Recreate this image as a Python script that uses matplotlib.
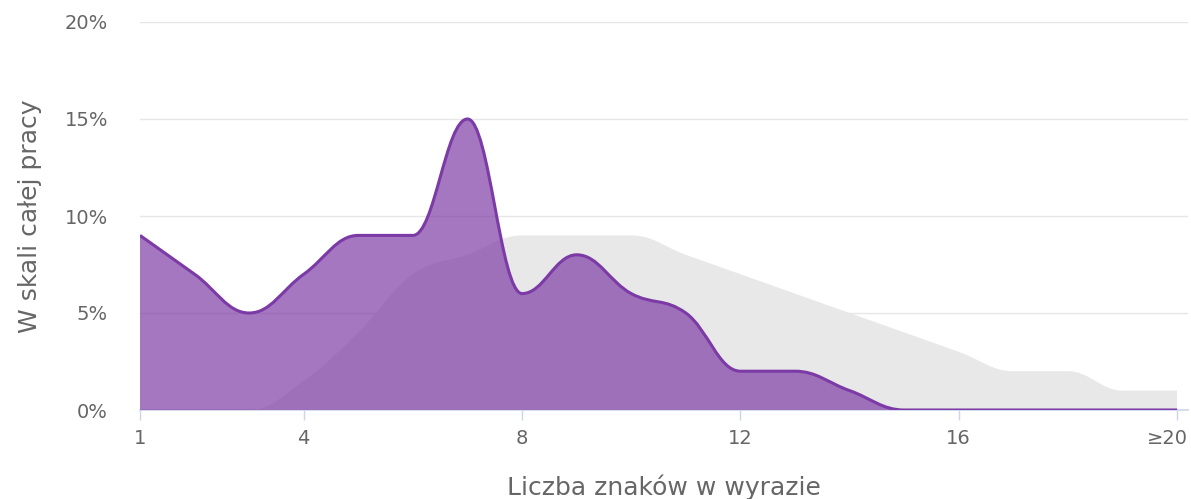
# Rozkład długości wyrazów: praca vs. wzorzec (areaspline w stylu Highcharts)
import matplotlib.pyplot as plt
import matplotlib.transforms as mtransforms
from matplotlib.path import Path
from matplotlib.patches import PathPatch

plt.rcParams["font.family"] = ["DejaVu Sans"]

# --- dane ---
dlugosc = list(range(1, 21))                      # liczba znaków (20 = "≥20")
praca = [9, 7, 5, 7, 9, 9, 15, 6, 8, 6, 5, 2, 2, 1, 0, 0, 0, 0, 0, 0]
wzorzec = [0, 0, 0, 1.5, 4, 7, 8, 9, 9, 9, 8, 7, 6, 5, 4, 3, 2, 2, 1, 1]
x_ticks = [1, 4, 8, 12, 16, 20]
x_tick_labels = ["1", "4", "8", "12", "16", "≥20"]
y_ticks = [0, 5, 10, 15, 20]
y_tick_labels = ["0%", "5%", "10%", "15%", "20%"]


def spline_path(xs, ys, closed=False, smoothing=1.5):
    # krzywe Béziera liczone tak jak w Highcharts (bez fałszywych ekstremów)
    n = len(xs)
    denom = smoothing + 1
    lc = [None] * n
    rc = [None] * n
    for i in range(1, n - 1):
        x, y = xs[i], ys[i]
        lx, ly = xs[i - 1], ys[i - 1]
        nx, ny = xs[i + 1], ys[i + 1]
        lcx = (smoothing * x + lx) / denom
        lcy = (smoothing * y + ly) / denom
        rcx = (smoothing * x + nx) / denom
        rcy = (smoothing * y + ny) / denom
        corr = 0
        if rcx != lcx:
            corr = (rcy - lcy) * (rcx - x) / (rcx - lcx) + y - rcy
        lcy += corr
        rcy += corr
        if lcy > ly and lcy > y:
            lcy = max(ly, y)
            rcy = 2 * y - lcy
        elif lcy < ly and lcy < y:
            lcy = min(ly, y)
            rcy = 2 * y - lcy
        if rcy > ny and rcy > y:
            rcy = max(ny, y)
            lcy = 2 * y - rcy
        elif rcy < ny and rcy < y:
            rcy = min(ny, y)
            lcy = 2 * y - rcy
        lc[i] = (lcx, lcy)
        rc[i] = (rcx, rcy)
    verts = [(xs[0], ys[0])]
    codes = [Path.MOVETO]
    for i in range(1, n):
        c1 = rc[i - 1] if rc[i - 1] else (xs[i - 1], ys[i - 1])
        c2 = lc[i] if lc[i] else (xs[i], ys[i])
        verts += [c1, c2, (xs[i], ys[i])]
        codes += [Path.CURVE4] * 3
    if closed:
        verts += [(xs[-1], 0), (xs[0], 0), (xs[0], ys[0])]
        codes += [Path.LINETO, Path.LINETO, Path.CLOSEPOLY]
    return Path(verts, codes)


fig = plt.figure(figsize=(11.91, 4.99), dpi=100)
ax = fig.add_axes([140 / 1191, 89 / 499, 1048 / 1191, 388 / 499])

# wzorzec (szary) pod spodem
ax.add_patch(PathPatch(spline_path(dlugosc, wzorzec, closed=True),
                       facecolor="#e8e8e8", edgecolor="none", zorder=2))
# praca (fioletowy) - wypełnienie półprzezroczyste + linia
ax.add_patch(PathPatch(spline_path(dlugosc, praca, closed=True),
                       facecolor="#8142a8", alpha=0.72, edgecolor="none", zorder=3))
ax.add_patch(PathPatch(spline_path(dlugosc, praca),
                       facecolor="none", edgecolor="#7b3aa6", linewidth=2.2,
                       zorder=4, capstyle="butt", joinstyle="round"))

ax.set_xlim(1, 20.2)
ax.set_ylim(0, 20)
ax.set_xticks(x_ticks)
ax.set_xticklabels(x_tick_labels)
ax.set_yticks(y_ticks)
ax.set_yticklabels(y_tick_labels)

ax.grid(axis="y", color="#e6e6e6", linewidth=1)
ax.set_axisbelow(True)
for s in ["top", "right", "left"]:
    ax.spines[s].set_visible(False)
ax.spines["bottom"].set_color("#ccd6eb")
ax.spines["bottom"].set_linewidth(1.2)
ax.spines["bottom"].set_zorder(1)

ax.tick_params(axis="x", length=7.5, width=1, color="#ccd6eb", pad=6,
               labelsize=14, labelcolor="#666666")
ax.tick_params(axis="y", length=0, pad=23, labelsize=14, labelcolor="#666666")

# ostatnia etykieta dosunięta do prawej krawędzi (jak w oryginale)
last = ax.get_xticklabels()[-1]
last.set_ha("right")
last.set_transform(last.get_transform() +
                   mtransforms.ScaledTranslation(0.11, 0, fig.dpi_scale_trans))

ax.set_xlabel("Liczba znaków w wyrazie", fontsize=18, color="#666666", labelpad=19)
ax.set_ylabel("W skali całej pracy", fontsize=18, color="#666666", labelpad=16)

fig.savefig("out.png", dpi=100)
